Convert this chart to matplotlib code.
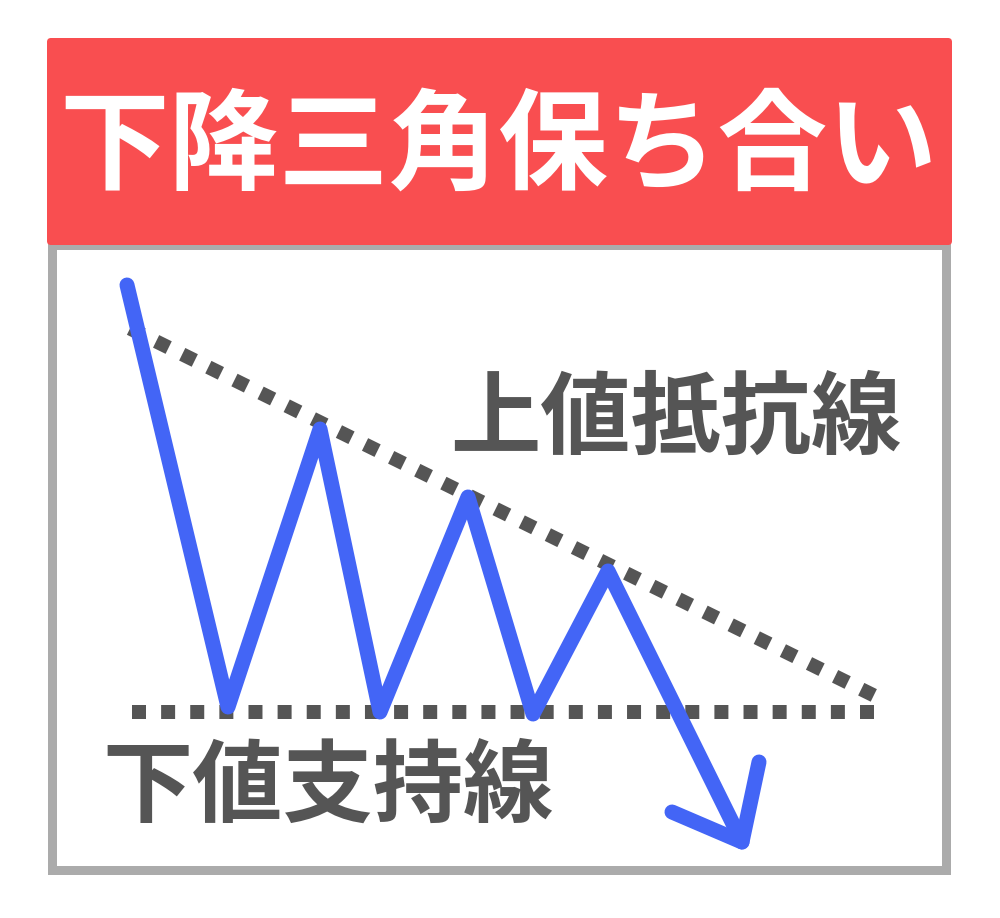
import matplotlib
matplotlib.use("Agg")
import matplotlib.pyplot as plt
from matplotlib.patches import FancyBboxPatch

W, H, DPI = 1000, 918, 100
PX = 72 / DPI  # points per pixel

# ---- data ----
title = "下降三角保ち合い"
resistance_label = "上値抵抗線"
support_label = "下値支持線"

price_x = [127, 228, 320, 380, 468, 533, 608, 742]
price_y = [285, 707, 429, 712, 497, 714, 571, 842]
arrow_x = [672, 742, 759]
arrow_y = [812, 842, 762]
resistance_x = [130, 875]
resistance_y = [328.5, 696]
support_x = [132, 874]
support_y = [712, 712]

BLUE = "#4365F6"
DARK = "#555555"
RED = "#F94E50"
GRAY = "#ABABAB"
FONT = ["Noto Sans CJK JP", "DejaVu Sans"]

fig = plt.figure(figsize=(W / DPI, H / DPI), dpi=DPI, facecolor="white")

L, R, T, B = 52, 946, 244.5, 870
ax = fig.add_axes([L / W, 1 - B / H, (R - L) / W, (B - T) / H])
ax.set_xlim(L, R)
ax.set_ylim(B, T)
ax.set_xticks([])
ax.set_yticks([])
for s in ax.spines.values():
    s.set_color(GRAY)
    s.set_linewidth(9 * PX)
    s.set_capstyle("projecting")

# header
hdr = FancyBboxPatch((47, 38), 905, 207, boxstyle="round,pad=0,rounding_size=4",
                     facecolor=RED, edgecolor="none", zorder=5, clip_on=False)
ax.add_patch(hdr)
ax.text(498, 149, title, color="white", fontsize=79, fontweight="bold",
        family=FONT, ha="center", va="center", zorder=6, clip_on=False)

# trend lines
ax.plot(resistance_x, resistance_y, color=DARK, lw=14 * PX, dashes=(1.0, 1.08),
        dash_capstyle="butt", zorder=3)
ax.plot(support_x, support_y, color=DARK, lw=14 * PX, dashes=(1.0, 1.08),
        dash_capstyle="butt", zorder=3)

# price path
ax.plot(price_x, price_y, color=BLUE, lw=15 * PX, solid_capstyle="round",
        solid_joinstyle="round", zorder=4)
ax.plot(arrow_x, arrow_y, color=BLUE, lw=15 * PX, solid_capstyle="round",
        solid_joinstyle="round", zorder=4)

# labels
ax.text(676, 420, resistance_label, color=DARK, fontsize=65, fontweight="bold",
        family=FONT, ha="center", va="center", zorder=2)
ax.text(328, 788, support_label, color=DARK, fontsize=65, fontweight="bold",
        family=FONT, ha="center", va="center", zorder=2)

fig.savefig("out.png", dpi=DPI, facecolor="white")
